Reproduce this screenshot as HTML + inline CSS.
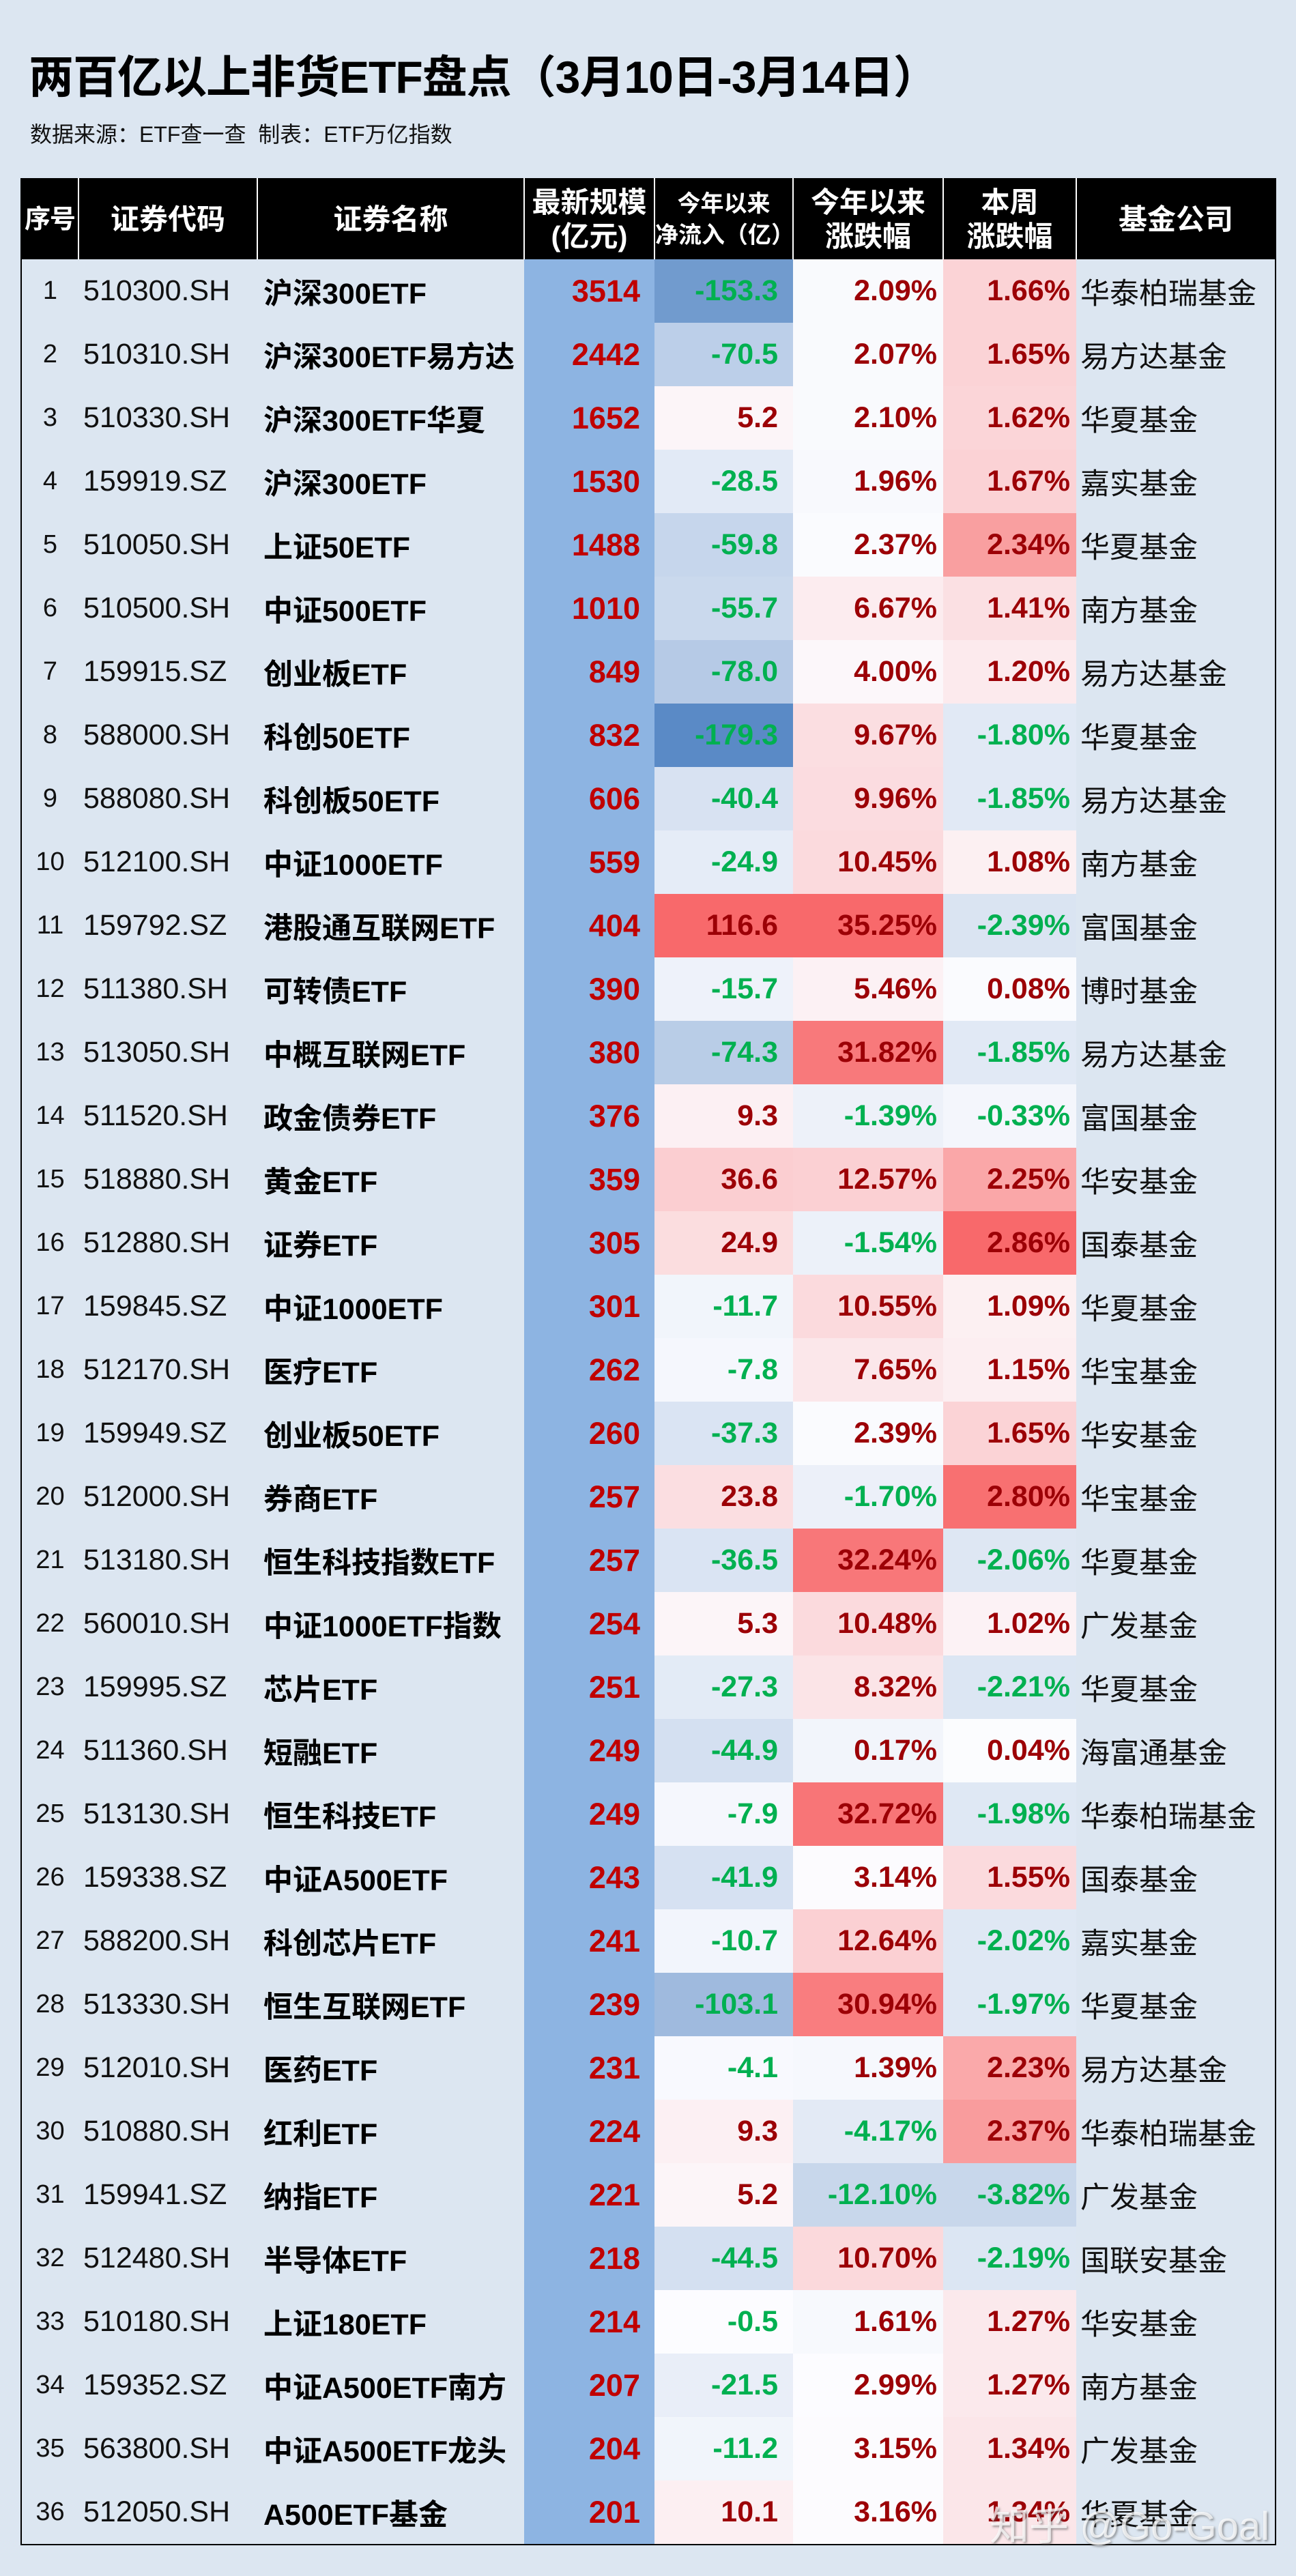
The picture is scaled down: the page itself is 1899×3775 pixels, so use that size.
<!DOCTYPE html>
<html><head><meta charset="utf-8">
<style>
html,body{margin:0;padding:0}
body{width:1899px;height:3775px;background:#dce6f1;position:relative;overflow:hidden;font-family:"Liberation Sans","Noto Sans CJK SC",sans-serif;}
.title{position:absolute;left:42px;top:60px;font-size:66px;font-weight:bold;color:#000;white-space:nowrap;letter-spacing:-1px}
.sub{position:absolute;left:44px;top:172px;font-size:32px;color:#111;white-space:nowrap}
table{position:absolute;left:30px;top:261px;border-collapse:collapse;table-layout:fixed;width:1838px;border:2px solid #000}
th{background:#000;color:#fff;font-weight:bold;font-size:42px;height:117px;line-height:50px;border-left:2px solid #fff;padding:0;text-align:center}
th:first-child{border-left:none;font-size:38px;white-space:nowrap;letter-spacing:-1px}
th.s{font-size:34px;line-height:46px}
td{height:93px;padding:0;font-size:43px;white-space:nowrap;overflow:hidden}
td.n{text-align:center;color:#111;font-size:38px}
td.c{padding-left:7px;color:#111}
td.m{padding-left:9px;font-weight:bold;color:#000}
td.z{background:#8db4e2;text-align:right;padding-right:21px;color:#c00000;font-weight:bold;font-size:45px}
td.f{text-align:right;padding-right:22px;font-weight:bold}
td.y,td.w{text-align:right;padding-right:9px;font-weight:bold}
td.co{padding-left:6px;color:#111}
.g{color:#00b050}.r{color:#9c0006}
.wm{position:absolute;left:1450px;top:3655px;font-size:58px;color:rgba(255,255,255,.75);text-shadow:2px 2px 3px rgba(90,90,90,.6);white-space:nowrap}
</style></head><body>
<div class="title">两百亿以上非货ETF盘点（3月10日-3月14日）</div>
<div class="sub">数据来源：ETF查一查&nbsp;&nbsp;制表：ETF万亿指数</div>
<table>
<colgroup><col style="width:84px"><col style="width:262px"><col style="width:391px"><col style="width:191px"><col style="width:203px"><col style="width:220px"><col style="width:195px"><col style="width:292px"></colgroup>
<tr><th>序号</th><th>证券代码</th><th>证券名称</th><th>最新规模<br>(亿元)</th><th class="s">今年以来<br>净流入（亿）</th><th>今年以来<br>涨跌幅</th><th>本周<br>涨跌幅</th><th>基金公司</th></tr>
<tr><td class="n">1</td><td class="c">510300.SH</td><td class="m">沪深300ETF</td><td class="z">3514</td><td class="f g" style="background:#719bce">-153.3</td><td class="y r" style="background:#f9fafd">2.09%</td><td class="w r" style="background:#fbd3d6">1.66%</td><td class="co">华泰柏瑞基金</td></tr>
<tr><td class="n">2</td><td class="c">510310.SH</td><td class="m">沪深300ETF易方达</td><td class="z">2442</td><td class="f g" style="background:#bccfe9">-70.5</td><td class="y r" style="background:#f9fafd">2.07%</td><td class="w r" style="background:#fbd3d6">1.65%</td><td class="co">易方达基金</td></tr>
<tr><td class="n">3</td><td class="c">510330.SH</td><td class="m">沪深300ETF华夏</td><td class="z">1652</td><td class="f r" style="background:#fcf5f8">5.2</td><td class="y r" style="background:#f9fafd">2.10%</td><td class="w r" style="background:#fbd5d8">1.62%</td><td class="co">华夏基金</td></tr>
<tr><td class="n">4</td><td class="c">159919.SZ</td><td class="m">沪深300ETF</td><td class="z">1530</td><td class="f g" style="background:#e2eaf6">-28.5</td><td class="y r" style="background:#f8f9fd">1.96%</td><td class="w r" style="background:#fbd2d5">1.67%</td><td class="co">嘉实基金</td></tr>
<tr><td class="n">5</td><td class="c">510050.SH</td><td class="m">上证50ETF</td><td class="z">1488</td><td class="f g" style="background:#c6d6ec">-59.8</td><td class="y r" style="background:#fafbfe">2.37%</td><td class="w r" style="background:#f99fa0">2.34%</td><td class="co">华夏基金</td></tr>
<tr><td class="n">6</td><td class="c">510500.SH</td><td class="m">中证500ETF</td><td class="z">1010</td><td class="f g" style="background:#cad9ed">-55.7</td><td class="y r" style="background:#fcecef">6.67%</td><td class="w r" style="background:#fbe0e3">1.41%</td><td class="co">南方基金</td></tr>
<tr><td class="n">7</td><td class="c">159915.SZ</td><td class="m">创业板ETF</td><td class="z">849</td><td class="f g" style="background:#b6cae6">-78.0</td><td class="y r" style="background:#fcf7fa">4.00%</td><td class="w r" style="background:#fceaed">1.20%</td><td class="co">易方达基金</td></tr>
<tr><td class="n">8</td><td class="c">588000.SH</td><td class="m">科创50ETF</td><td class="z">832</td><td class="f g" style="background:#5a8ac6">-179.3</td><td class="y r" style="background:#fbdee1">9.67%</td><td class="w g" style="background:#e1e9f5">-1.80%</td><td class="co">华夏基金</td></tr>
<tr><td class="n">9</td><td class="c">588080.SH</td><td class="m">科创板50ETF</td><td class="z">606</td><td class="f g" style="background:#d8e2f2">-40.4</td><td class="y r" style="background:#fbdce0">9.96%</td><td class="w g" style="background:#e1e9f5">-1.85%</td><td class="co">易方达基金</td></tr>
<tr><td class="n">10</td><td class="c">512100.SH</td><td class="m">中证1000ETF</td><td class="z">559</td><td class="f g" style="background:#e5ecf7">-24.9</td><td class="y r" style="background:#fbdadd">10.45%</td><td class="w r" style="background:#fcf0f2">1.08%</td><td class="co">南方基金</td></tr>
<tr><td class="n">11</td><td class="c">159792.SZ</td><td class="m">港股通互联网ETF</td><td class="z">404</td><td class="f r" style="background:#f8696b">116.6</td><td class="y r" style="background:#f8696b">35.25%</td><td class="w g" style="background:#dae4f2">-2.39%</td><td class="co">富国基金</td></tr>
<tr><td class="n">12</td><td class="c">511380.SH</td><td class="m">可转债ETF</td><td class="z">390</td><td class="f g" style="background:#eef2fa">-15.7</td><td class="y r" style="background:#fcf1f4">5.46%</td><td class="w r" style="background:#fafbfe">0.08%</td><td class="co">博时基金</td></tr>
<tr><td class="n">13</td><td class="c">513050.SH</td><td class="m">中概互联网ETF</td><td class="z">380</td><td class="f g" style="background:#b9cde7">-74.3</td><td class="y r" style="background:#f8797b">31.82%</td><td class="w g" style="background:#e1e9f5">-1.85%</td><td class="co">易方达基金</td></tr>
<tr><td class="n">14</td><td class="c">511520.SH</td><td class="m">政金债券ETF</td><td class="z">376</td><td class="f r" style="background:#fcf0f3">9.3</td><td class="y g" style="background:#edf1f9">-1.39%</td><td class="w g" style="background:#f4f6fc">-0.33%</td><td class="co">富国基金</td></tr>
<tr><td class="n">15</td><td class="c">518880.SH</td><td class="m">黄金ETF</td><td class="z">359</td><td class="f r" style="background:#fbced1">36.6</td><td class="y r" style="background:#fbd0d3">12.57%</td><td class="w r" style="background:#faa7a8">2.25%</td><td class="co">华安基金</td></tr>
<tr><td class="n">16</td><td class="c">512880.SH</td><td class="m">证券ETF</td><td class="z">305</td><td class="f r" style="background:#fbdddf">24.9</td><td class="y g" style="background:#ecf1f9">-1.54%</td><td class="w r" style="background:#f8696b">2.86%</td><td class="co">国泰基金</td></tr>
<tr><td class="n">17</td><td class="c">159845.SZ</td><td class="m">中证1000ETF</td><td class="z">301</td><td class="f g" style="background:#f1f5fb">-11.7</td><td class="y r" style="background:#fbdadd">10.55%</td><td class="w r" style="background:#fcf0f2">1.09%</td><td class="co">华夏基金</td></tr>
<tr><td class="n">18</td><td class="c">512170.SH</td><td class="m">医疗ETF</td><td class="z">262</td><td class="f g" style="background:#f5f7fd">-7.8</td><td class="y r" style="background:#fbe7ea">7.65%</td><td class="w r" style="background:#fceef1">1.15%</td><td class="co">华宝基金</td></tr>
<tr><td class="n">19</td><td class="c">159949.SZ</td><td class="m">创业板50ETF</td><td class="z">260</td><td class="f g" style="background:#dae4f3">-37.3</td><td class="y r" style="background:#fafbfe">2.39%</td><td class="w r" style="background:#fbd3d6">1.65%</td><td class="co">华安基金</td></tr>
<tr><td class="n">20</td><td class="c">512000.SH</td><td class="m">券商ETF</td><td class="z">257</td><td class="f r" style="background:#fbdee1">23.8</td><td class="y g" style="background:#ecf0f9">-1.70%</td><td class="w r" style="background:#f87071">2.80%</td><td class="co">华宝基金</td></tr>
<tr><td class="n">21</td><td class="c">513180.SH</td><td class="m">恒生科技指数ETF</td><td class="z">257</td><td class="f g" style="background:#dae4f3">-36.5</td><td class="y r" style="background:#f87779">32.24%</td><td class="w g" style="background:#dee7f3">-2.06%</td><td class="co">华夏基金</td></tr>
<tr><td class="n">22</td><td class="c">560010.SH</td><td class="m">中证1000ETF指数</td><td class="z">254</td><td class="f r" style="background:#fcf5f8">5.3</td><td class="y r" style="background:#fbdadd">10.48%</td><td class="w r" style="background:#fcf2f5">1.02%</td><td class="co">广发基金</td></tr>
<tr><td class="n">23</td><td class="c">159995.SZ</td><td class="m">芯片ETF</td><td class="z">251</td><td class="f g" style="background:#e3ebf6">-27.3</td><td class="y r" style="background:#fbe4e7">8.32%</td><td class="w g" style="background:#dce6f3">-2.21%</td><td class="co">华夏基金</td></tr>
<tr><td class="n">24</td><td class="c">511360.SH</td><td class="m">短融ETF</td><td class="z">249</td><td class="f g" style="background:#d4e0f1">-44.9</td><td class="y r" style="background:#f2f5fb">0.17%</td><td class="w r" style="background:#fbfcfe">0.04%</td><td class="co">海富通基金</td></tr>
<tr><td class="n">25</td><td class="c">513130.SH</td><td class="m">恒生科技ETF</td><td class="z">249</td><td class="f g" style="background:#f5f7fd">-7.9</td><td class="y r" style="background:#f87577">32.72%</td><td class="w g" style="background:#dfe8f4">-1.98%</td><td class="co">华泰柏瑞基金</td></tr>
<tr><td class="n">26</td><td class="c">159338.SZ</td><td class="m">中证A500ETF</td><td class="z">243</td><td class="f g" style="background:#d6e1f2">-41.9</td><td class="y r" style="background:#fcfbfe">3.14%</td><td class="w r" style="background:#fbdadd">1.55%</td><td class="co">国泰基金</td></tr>
<tr><td class="n">27</td><td class="c">588200.SH</td><td class="m">科创芯片ETF</td><td class="z">241</td><td class="f g" style="background:#f2f5fc">-10.7</td><td class="y r" style="background:#fbd0d3">12.64%</td><td class="w g" style="background:#dfe8f4">-2.02%</td><td class="co">嘉实基金</td></tr>
<tr><td class="n">28</td><td class="c">513330.SH</td><td class="m">恒生互联网ETF</td><td class="z">239</td><td class="f g" style="background:#9fbade">-103.1</td><td class="y r" style="background:#f97d7f">30.94%</td><td class="w g" style="background:#dfe8f4">-1.97%</td><td class="co">华夏基金</td></tr>
<tr><td class="n">29</td><td class="c">512010.SH</td><td class="m">医药ETF</td><td class="z">231</td><td class="f g" style="background:#f8f9fe">-4.1</td><td class="y r" style="background:#f6f8fd">1.39%</td><td class="w r" style="background:#faa9aa">2.23%</td><td class="co">易方达基金</td></tr>
<tr><td class="n">30</td><td class="c">510880.SH</td><td class="m">红利ETF</td><td class="z">224</td><td class="f r" style="background:#fcf0f3">9.3</td><td class="y g" style="background:#e3eaf5">-4.17%</td><td class="w r" style="background:#f99c9d">2.37%</td><td class="co">华泰柏瑞基金</td></tr>
<tr><td class="n">31</td><td class="c">159941.SZ</td><td class="m">纳指ETF</td><td class="z">221</td><td class="f r" style="background:#fcf5f8">5.2</td><td class="y g" style="background:#c8d7eb">-12.10%</td><td class="w g" style="background:#c8d7eb">-3.82%</td><td class="co">广发基金</td></tr>
<tr><td class="n">32</td><td class="c">512480.SH</td><td class="m">半导体ETF</td><td class="z">218</td><td class="f g" style="background:#d4e0f1">-44.5</td><td class="y r" style="background:#fbd9dc">10.70%</td><td class="w g" style="background:#dce6f3">-2.19%</td><td class="co">国联安基金</td></tr>
<tr><td class="n">33</td><td class="c">510180.SH</td><td class="m">上证180ETF</td><td class="z">214</td><td class="f g" style="background:#fcfcff">-0.5</td><td class="y r" style="background:#f7f9fd">1.61%</td><td class="w r" style="background:#fbe9ec">1.27%</td><td class="co">华安基金</td></tr>
<tr><td class="n">34</td><td class="c">159352.SZ</td><td class="m">中证A500ETF南方</td><td class="z">207</td><td class="f g" style="background:#e9eef8">-21.5</td><td class="y r" style="background:#fcfcff">2.99%</td><td class="w r" style="background:#fbe9ec">1.27%</td><td class="co">南方基金</td></tr>
<tr><td class="n">35</td><td class="c">563800.SH</td><td class="m">中证A500ETF龙头</td><td class="z">204</td><td class="f g" style="background:#f1f5fb">-11.2</td><td class="y r" style="background:#fcfbfe">3.15%</td><td class="w r" style="background:#fbe6e9">1.34%</td><td class="co">广发基金</td></tr>
<tr><td class="n">36</td><td class="c">512050.SH</td><td class="m">A500ETF基金</td><td class="z">201</td><td class="f r" style="background:#fceff2">10.1</td><td class="y r" style="background:#fcfbfe">3.16%</td><td class="w r" style="background:#fbe6e9">1.34%</td><td class="co">华夏基金</td></tr>
</table>
<div class="wm">知乎 @Go-Goal</div>
</body></html>
